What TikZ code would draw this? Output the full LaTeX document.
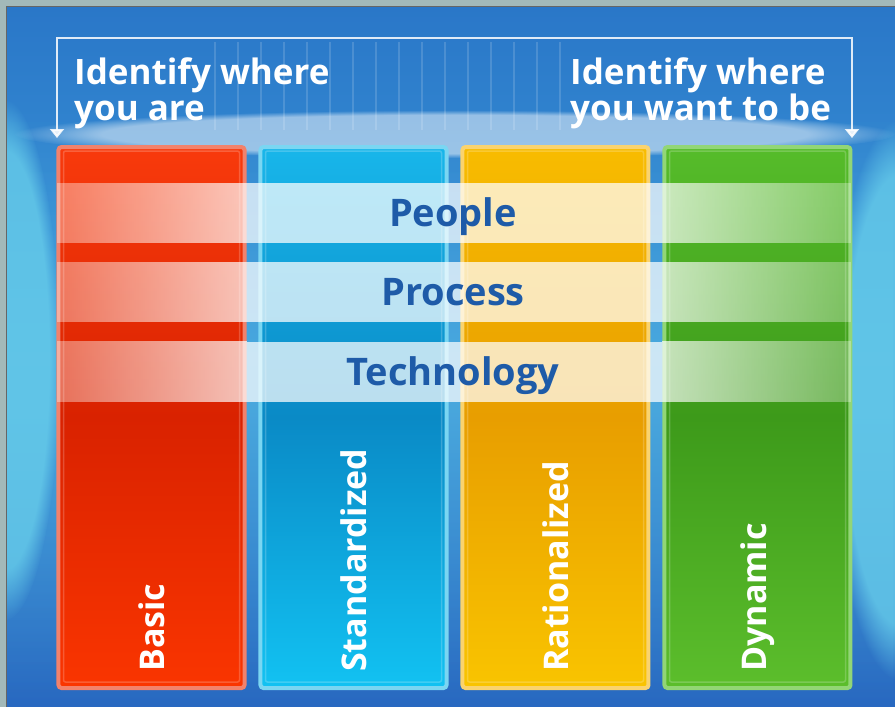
\documentclass[tikz,border=0pt]{standalone}
\usepackage{fontspec}
\setmainfont{Open Sans}
\usetikzlibrary{positioning,fadings,arrows.meta}

\definecolor{frameg}{HTML}{A3B9B9}
\definecolor{bgtop}{HTML}{2A77C8}
\definecolor{bgmid}{HTML}{3C9ADA}
\definecolor{bgbot}{HTML}{2868C0}
\definecolor{glow}{HTML}{66CCEA}
\definecolor{txtblue}{HTML}{1E5BA8}
% column colours: rim, top, middle, bottom
\definecolor{redrim}{HTML}{F2826C}   \definecolor{redtop}{HTML}{F83A0C}
\definecolor{redmid}{HTML}{D92200}   \definecolor{redbot}{HTML}{FA3500}
\definecolor{bluerim}{HTML}{7AD6F2}  \definecolor{bluetop}{HTML}{18B6EA}
\definecolor{bluemid}{HTML}{0A8AC6}  \definecolor{bluebot}{HTML}{12C2F2}
\definecolor{yelrim}{HTML}{FAD36E}   \definecolor{yeltop}{HTML}{F8BC00}
\definecolor{yelmid}{HTML}{E89E00}   \definecolor{yelbot}{HTML}{F9C400}
\definecolor{grnrim}{HTML}{92D676}   \definecolor{grntop}{HTML}{56BC2A}
\definecolor{grnmid}{HTML}{3D9A1A}   \definecolor{grnbot}{HTML}{5CBE2C}

\tikzfading[name=bandin, left color=transparent!65, right color=transparent!28]
\tikzfading[name=bandout, left color=transparent!30, right color=transparent!72]
\tikzfading[name=haze, top color=transparent!100, bottom color=transparent!100, middle color=transparent!0]

\tikzset{
  col/.style={draw=#1rim, line width=4pt, rounded corners=3pt,
    top color=#1top, bottom color=#1bot, middle color=#1mid,
    minimum width=186pt, minimum height=541pt, inner sep=0pt},
  lbl/.style={rotate=90, anchor=west, inner sep=0pt, text=white,
    font=\bfseries\fontsize{34}{34}\selectfont},
  head/.style={anchor=north west, align=left, inner sep=0pt, text=white,
    font=\bfseries\fontsize{35}{36}\selectfont},
  brk/.style={draw=white, line width=2pt, opacity=.85},
  bandtxt/.style={anchor=base, text=txtblue, inner sep=0pt,
    font=\bfseries\fontsize{38}{38}\selectfont},
  sideglow/.style={fill=#1, opacity=.8, path fading=circle with fuzzy edge 20 percent}
}

\begin{document}
\begin{tikzpicture}[x=1pt, y=-1pt]
  \useasboundingbox (0,0) rectangle (895,707);
  % frame and panel
  \fill[frameg] (0,0) rectangle (895,707);
  \begin{scope}
    \clip (7,7) rectangle (895,707);
    \shade[top color=bgtop, bottom color=bgbot, middle color=bgmid] (7,7) rectangle (895,707);
    \fill[glow, opacity=.35, path fading=haze] (7,110) rectangle (895,705);
    \path[sideglow=glow] (900,400) ellipse (70 and 280);
    \path[sideglow=glow] (5,360) ellipse (55 and 260);
  \end{scope}
  \draw[black!60, line width=1.2pt] (6.5,707) -- (6.5,6.5) -- (895,6.5);
  % stripes
  \foreach \x in {215,238,...,570}
    \draw[white, opacity=.15, line width=1.2pt] (\x,42) -- (\x,130);
  \path[sideglow=white, opacity=.5] (455,134) ellipse (440 and 24);

  \matrix[column sep={202pt,between origins}, ampersand replacement=\&] at (454.5,417.5)
  {
    \node[col=red] (B) {}; \&
    \node[col=blue] (S) {}; \&
    \node[col=yel] (R) {}; \&
    \node[col=grn] (D) {}; \\
  };
  % inner rims
  \foreach \n in {B,S,R,D}
    \draw[white, opacity=.2, line width=1.5pt, rounded corners=2pt]
      ([xshift=7pt,yshift=-6pt]\n.north west) rectangle ([xshift=-7pt,yshift=8pt]\n.south east);

  \node[lbl] at ([yshift=18pt]B.south) {Basic};
  \node[lbl] at ([yshift=18pt]S.south) {Standardized};
  \node[lbl] at ([yshift=18pt]R.south) {Rationalized};
  \node[lbl] at ([yshift=18pt]D.south) {Dynamic};

  % bands
  \foreach \y/\t/\n in {213/People/PPL, 292/Process/PRC, 371.5/Technology/TEC} {
    \fill[white, path fading=bandin] (57,\y-30) rectangle (247,\y+30);
    \fill[white, opacity=.72] (247,\y-30) rectangle (662,\y+30);
    \fill[white, path fading=bandout] (662,\y-30) rectangle (851,\y+30);
    \node[bandtxt] (\n) at (453,\y+13.5) {\t};
  }

  % bracket
  \coordinate (TL) at (57,38);
  \coordinate (TR) at (852,38);
  \coordinate (AL) at (57,138);
  \coordinate (AR) at (852,138);
  \draw[brk, {Triangle[width=14pt,length=9pt]}-{Triangle[width=14pt,length=9pt]}]
    (AL) -- (TL) -- (TR) -- (AR);

  \node[head] (HERE) at (74,58) {Identify where\\you are};
  \node[head] (THERE) at (570,58) {Identify where\\you want to be};
\end{tikzpicture}
\end{document}
